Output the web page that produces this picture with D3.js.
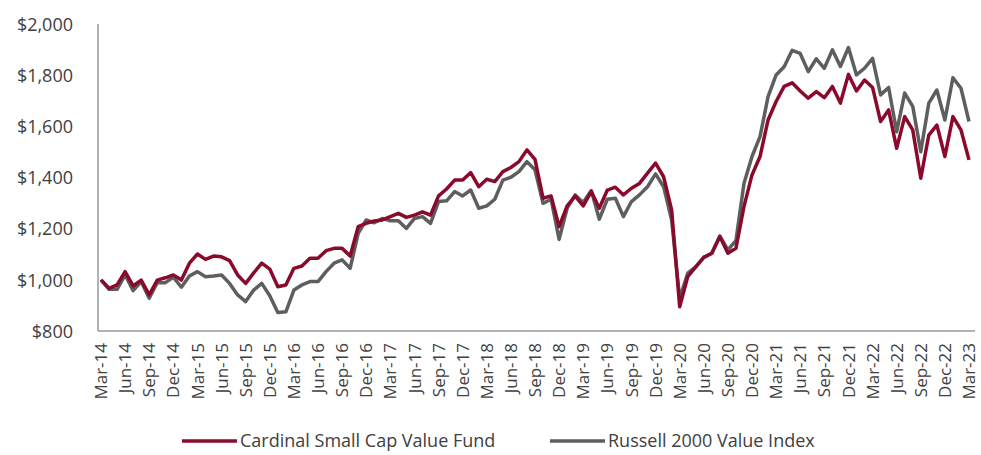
<!DOCTYPE html>
<html>
<head>
<meta charset="utf-8">
<script src="https://cdn.jsdelivr.net/npm/d3@7"></script>
<style>
  body { margin: 0; background: #fff; }
  text { font-family: "Open Sans", sans-serif; fill: #404040; }
</style>
</head>
<body>
<div id="chart"></div>
<script>
const svgWidth = 981
const svgHeight = 455

// monthly growth of $1,000, Mar-14 .. Mar-23
const fundValues = [
  1000, 967, 980, 1032, 976, 999, 941, 999, 1008, 1019, 999, 1065,
  1101, 1080, 1093, 1090, 1075, 1019, 986, 1027, 1065, 1042, 973, 980,
  1045, 1054, 1084, 1084, 1114, 1123, 1123, 1093, 1208, 1221, 1230, 1234,
  1247, 1260, 1244, 1253, 1266, 1253, 1328, 1355, 1390, 1390, 1419, 1364,
  1393, 1384, 1423, 1439, 1462, 1508, 1471, 1319, 1328, 1208, 1289, 1327,
  1289, 1345, 1280, 1351, 1362, 1332, 1358, 1377, 1417, 1456, 1403, 1273,
  895, 1012, 1051, 1088, 1104, 1169, 1104, 1123, 1286, 1410, 1482, 1625,
  1697, 1756, 1770, 1738, 1710, 1736, 1712, 1756, 1691, 1803, 1738, 1781,
  1752, 1619, 1664, 1514, 1638, 1586, 1397, 1566, 1605, 1482, 1638, 1586,
  1469
]
const indexValues = [
  1000, 963, 963, 1019, 958, 993, 928, 989, 989, 1010, 971, 1015,
  1032, 1012, 1015, 1019, 986, 941, 915, 960, 986, 938, 872, 875,
  960, 980, 993, 993, 1032, 1065, 1078, 1045, 1182, 1234, 1223, 1240,
  1231, 1231, 1201, 1240, 1247, 1221, 1306, 1309, 1345, 1328, 1351, 1280,
  1289, 1315, 1390, 1401, 1423, 1462, 1430, 1299, 1315, 1158, 1280, 1332,
  1302, 1349, 1237, 1315, 1319, 1247, 1306, 1332, 1364, 1414, 1364, 1234,
  928, 1026, 1051, 1088, 1104, 1171, 1117, 1153, 1377, 1482, 1560, 1716,
  1801, 1833, 1897, 1885, 1814, 1864, 1827, 1899, 1834, 1908, 1801, 1827,
  1866, 1723, 1752, 1579, 1730, 1678, 1501, 1691, 1742, 1625, 1790, 1749,
  1619
]
const tickLabels = [
  "Mar-14", "Jun-14", "Sep-14", "Dec-14", "Mar-15", "Jun-15", "Sep-15", "Dec-15",
  "Mar-16", "Jun-16", "Sep-16", "Dec-16", "Mar-17", "Jun-17", "Sep-17", "Dec-17",
  "Mar-18", "Jun-18", "Sep-18", "Dec-18", "Mar-19", "Jun-19", "Sep-19", "Dec-19",
  "Mar-20", "Jun-20", "Sep-20", "Dec-20", "Mar-21", "Jun-21", "Sep-21", "Dec-21",
  "Mar-22", "Jun-22", "Sep-22", "Dec-22", "Mar-23"
]
const yTicks = [800, 1000, 1200, 1400, 1600, 1800, 2000]
const seriesNames = ["Cardinal Small Cap Value Fund", "Russell 2000 Value Index"]
const seriesColors = ["#8a0a2c", "#5e5e5e"]

const months = d3.range(fundValues.length)

let svg = d3
  .select("#chart")
  .append("svg")
  .attr("width", svgWidth)
  .attr("height", svgHeight)

let xScale = d3.scalePoint()
  .domain(months)
  .range([101, 969])

let yScale = d3.scaleLinear()
  .domain([800, 2000])
  .range([331, 24])

// y axis: labels only, plus the spine
let leftAxis = d3.axisLeft(yScale)
  .tickValues(yTicks)
  .tickSize(0)
  .tickPadding(0)
  .tickFormat(d => "$" + d3.format(",")(d))
let yAxis = svg.append("g")
  .attr("transform", "translate(73, 0)")
  .call(leftAxis)
yAxis.select(".domain").remove()
yAxis.selectAll("text")
  .style("font-size", "18px")
  .attr("dy", "0.35em")

svg.append("line")
  .attr("x1", 98).attr("x2", 98)
  .attr("y1", 24).attr("y2", 331)
  .attr("stroke", "#999")
  .attr("stroke-width", 1.5)

// x axis: every third month labelled
let bottomAxis = d3.axisBottom(xScale)
  .tickValues(months.filter(i => i % 3 === 0))
  .tickSize(0)
  .tickFormat(i => tickLabels[i / 3])
let xAxis = svg.append("g")
  .attr("transform", "translate(0, 331)")
  .call(bottomAxis)
xAxis.select(".domain").remove()
xAxis.selectAll("text")
  .style("font-size", "17px")
  .attr("text-anchor", "end")
  .attr("transform", "rotate(-90)")
  .attr("x", -12)
  .attr("y", 0)
  .attr("dy", "0.33em")

svg.append("line")
  .attr("x1", 98).attr("x2", 975)
  .attr("y1", 331).attr("y2", 331)
  .attr("stroke", "#999")
  .attr("stroke-width", 1.5)

let line = d3.line()
  .x((d, i) => xScale(i))
  .y(d => yScale(d))

let allSeries = [indexValues, fundValues]
let allColors = [seriesColors[1], seriesColors[0]]
allSeries.forEach((values, k) => {
  svg.append("path")
    .datum(values)
    .attr("fill", "none")
    .attr("stroke", allColors[k])
    .attr("stroke-width", 3.5)
    .attr("stroke-linejoin", "round")
    .attr("d", line)
})

// legend
let legendPos = [182, 550]
seriesNames.forEach((name, k) => {
  let g = svg.append("g")
    .attr("transform", `translate(${legendPos[k]}, 441)`)
  g.append("line")
    .attr("x1", 0).attr("x2", 55)
    .attr("stroke", seriesColors[k])
    .attr("stroke-width", 3.5)
  g.append("text")
    .attr("x", 58)
    .attr("dy", "0.35em")
    .style("font-size", "18px")
    .text(name)
})
</script>
</body>
</html>
